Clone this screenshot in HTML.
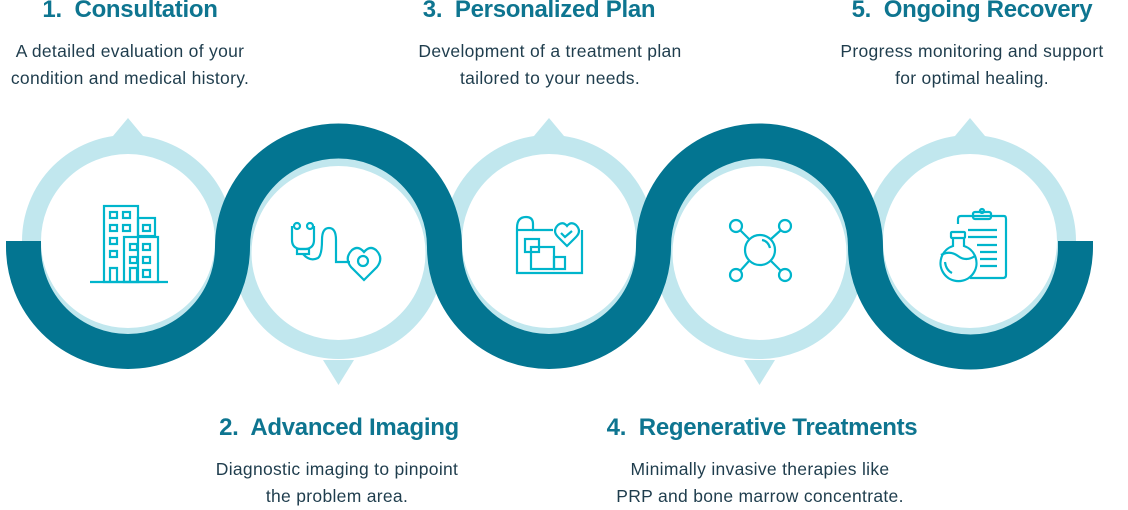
<!DOCTYPE html>
<html><head><meta charset="utf-8"><style>
html,body{margin:0;padding:0;background:#fff;}
body{width:1128px;height:507px;position:relative;overflow:hidden;font-family:"Liberation Sans",sans-serif;}
.t{position:absolute;width:340px;text-align:center;color:#0e7590;font-weight:bold;font-size:24px;letter-spacing:-0.3px;}
.d{position:absolute;width:360px;text-align:center;color:#1f3d4d;font-size:17.5px;line-height:27px;letter-spacing:0.3px;}
svg{position:absolute;left:0;top:0;}
</style></head><body>
<svg width="1128" height="507" viewBox="0 0 1128 507">
<g fill="none" stroke="#c1e7ee" stroke-width="19">
<circle cx="128" cy="241" r="96.5"/>
<circle cx="338.5" cy="253" r="96.5"/>
<circle cx="549" cy="241" r="96.5"/>
<circle cx="759.5" cy="253" r="96.5"/>
<circle cx="970" cy="241" r="96.5"/>
</g>
<g fill="#c1e7ee">
<polygon points="113,136 128,118 143,136"/>
<polygon points="534,136 549,118 564,136"/>
<polygon points="955,136 970,118 985,136"/>
<polygon points="323,360 338.5,385 354,360"/>
<polygon points="744,360 759.5,385 775,360"/>
</g>
<path d="M23.5 241 L23.5 247 A104.5 104.5 0 0 0 232.5 247 A106 106 0 0 1 444.5 247 A104.5 104.5 0 0 0 653.5 247 A106 106 0 0 1 865.5 247 A104.5 104.5 0 0 0 1075.5 247 L1075.5 241" fill="none" stroke="#037591" stroke-width="35"/>
<g fill="none" stroke="#00b5cc" stroke-width="2.2">
<rect x="104" y="206" width="34" height="76"/>
<rect x="138" y="218" width="17" height="18"/>
<rect x="124" y="237" width="34" height="45"/>
<line x1="90" y1="282" x2="168" y2="282"/>
<rect x="110" y="212" width="7" height="6"/><rect x="123" y="212" width="7" height="6"/>
<rect x="110" y="225" width="7" height="6"/><rect x="123" y="225" width="7" height="6"/>
<rect x="143" y="225" width="7" height="6"/>
<rect x="110" y="238" width="7" height="6"/><rect x="110" y="251" width="7" height="6"/>
<rect x="130" y="244" width="7" height="6"/><rect x="143" y="244" width="7" height="6"/>
<rect x="130" y="257" width="7" height="6"/><rect x="143" y="257" width="7" height="6"/>
<rect x="143" y="270" width="7" height="7"/>
<path d="M110 282 V268 H117 V282 M130 282 V268 H137 V282"/>
<circle cx="297" cy="226" r="3"/><circle cx="310" cy="226" r="3"/>
<path d="M292 226 V240 Q292 248 300 249 H306 Q314 248 314 240 V226"/>
<rect x="297" y="249" width="12" height="5"/>
<path d="M303 254 Q310 262 318 258 Q322 255 322 240 Q322 228 329 228 Q336 228 336 240 V262 H350"/>
<path d="M364 280 L351 267 Q344 258 352 250 Q358 245 364 252 Q370 245 376 250 Q384 258 377 267 Z"/>
<circle cx="363" cy="261" r="5"/>
<path d="M517 250 V273 H582 V230"/>
<path d="M517 250 V228 Q517 217 526 217 Q533 217 533 224 V230 H553"/>
<path d="M517 230 H533"/>
<path d="M567 246 L558 237 Q552 231 558 225 Q563 221 567 226 Q571 221 576 225 Q582 231 576 237 Z"/>
<path d="M561 233 L565 237 L572 231"/>
<rect x="525" y="239" width="14" height="13"/>
<rect x="531" y="247" width="23" height="22"/>
<rect x="554" y="257" width="11" height="12"/>
<circle cx="760" cy="250" r="15"/>
<path d="M762 240 Q768 241 770 248"/>
<circle cx="736" cy="226" r="6"/><circle cx="785" cy="226" r="6"/>
<circle cx="736" cy="275" r="6"/><circle cx="785" cy="275" r="6"/>
<path d="M740 230 L749 239 M781 230 L771 239 M740 271 L749 261 M781 271 L771 261"/>
<path d="M958 224 V219 Q958 216 961 216 H1004 Q1006 216 1006 219 V275 Q1006 278 1003 278 H970"/>
<rect x="973" y="212" width="18" height="7" rx="2"/>
<circle cx="982" cy="211" r="2"/>
<line x1="968" y1="230" x2="997" y2="230"/><line x1="968" y1="237" x2="997" y2="237"/>
<line x1="977" y1="245" x2="997" y2="245"/><line x1="980" y1="252" x2="997" y2="252"/>
<line x1="980" y1="259" x2="997" y2="259"/><line x1="980" y1="266" x2="997" y2="266"/>
<rect x="951" y="232" width="14" height="6" rx="1"/>
<path d="M953 238 V246 A18 18 0 1 0 964 246 V238"/>
<path d="M941 255 Q950 250 958 256 Q966 262 975 256"/>
<path d="M945 262 Q946 270 952 273"/>
</g>
</svg>
<div class="t" style="left:-40px;top:-4px;">1.&nbsp; Consultation</div>
<div class="d" style="left:-50px;top:38px;">A detailed evaluation of your<br>condition and medical history.</div>
<div class="t" style="left:369px;top:-4px;">3.&nbsp; Personalized Plan</div>
<div class="d" style="left:370px;top:38px;">Development of a treatment plan<br>tailored to your needs.</div>
<div class="t" style="left:802px;top:-4px;">5.&nbsp; Ongoing Recovery</div>
<div class="d" style="left:792px;top:38px;">Progress monitoring and support<br>for optimal healing.</div>
<div class="t" style="left:169px;top:414px;">2.&nbsp; Advanced Imaging</div>
<div class="d" style="left:157px;top:456px;">Diagnostic imaging to pinpoint<br>the problem area.</div>
<div class="t" style="left:592px;top:414px;">4.&nbsp; Regenerative Treatments</div>
<div class="d" style="left:580px;top:456px;">Minimally invasive therapies like<br>PRP and bone marrow concentrate.</div>
</body></html>
